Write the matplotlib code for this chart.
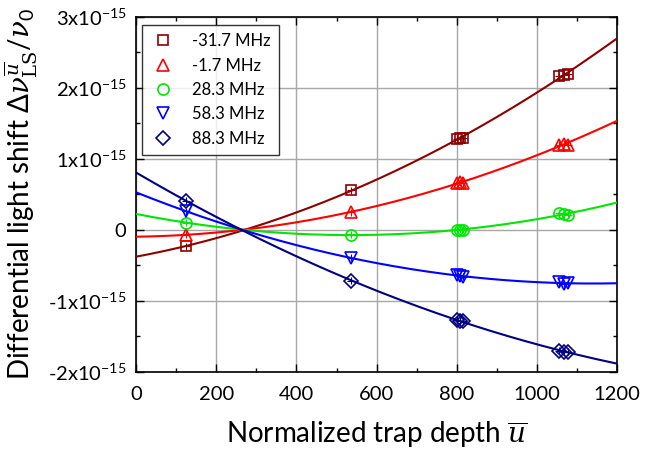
import numpy as np
import matplotlib
matplotlib.use("Agg")
import matplotlib.pyplot as plt
from matplotlib.ticker import MultipleLocator, FixedLocator, FixedFormatter

plt.rcParams["font.family"] = ["Lato", "DejaVu Sans"]
plt.rcParams["mathtext.fontset"] = "custom"
plt.rcParams["mathtext.rm"] = "Lato"
plt.rcParams["mathtext.sf"] = "DejaVu Serif"
plt.rcParams["mathtext.it"] = "DejaVu Serif:italic"

# Normalized trap depth of each measurement
u = [125, 535, 800, 808, 815, 1055, 1066, 1078]

# Differential light shift (units of 1e-15) for each detuning
labels = ["-31.7 MHz", "-1.7 MHz", "28.3 MHz", "58.3 MHz", "88.3 MHz"]
shift_m31_7 = [-0.23, 0.56, 1.28, 1.29, 1.29, 2.17, 2.18, 2.19]
shift_m1_7 = [-0.07, 0.25, 0.66, 0.67, 0.66, 1.20, 1.21, 1.20]
shift_28_3 = [0.10, -0.07, 0.00, 0.00, 0.00, 0.23, 0.22, 0.21]
shift_58_3 = [0.26, -0.39, -0.64, -0.65, -0.66, -0.74, -0.76, -0.75]
shift_88_3 = [0.41, -0.72, -1.27, -1.28, -1.29, -1.70, -1.72, -1.72]
u_err = 10
shift_err = 0.05

series = [shift_m31_7, shift_m1_7, shift_28_3, shift_58_3, shift_88_3]
colors = ["#8b0000", "#ff0000", "#00e600", "#0000ff", "#000080"]
markers = ["s", "^", "o", "v", "D"]
msizes = [7, 8, 8, 8, 7]

y_ticks = [-2, -1, 0, 1, 2, 3]
y_ticklabels = ["-2x10$^{-15}$", "-1x10$^{-15}$", "0", "1x10$^{-15}$",
                "2x10$^{-15}$", "3x10$^{-15}$"]

fig = plt.figure(figsize=(6.45, 4.54), dpi=100)
ax = fig.add_axes([0.211, 0.181, 0.746, 0.782])

ugrid = np.linspace(0, 1200, 300)
handles = []
for ys, c, m, ms, lab in zip(series, colors, markers, msizes, labels):
    coef = np.polyfit(u, ys, 2)
    ax.plot(ugrid, np.polyval(coef, ugrid), color=c, lw=1.5, zorder=3)
    ax.errorbar(u, ys, xerr=u_err, yerr=shift_err, fmt="none",
                ecolor=c, elinewidth=0.8, capsize=0, zorder=4)
    h, = ax.plot(u, ys, ls="none", marker=m, ms=ms, mfc="none", mec=c,
                 mew=1.2, zorder=5, label=lab)
    handles.append(h)

ax.set_xlim(0, 1200)
ax.set_ylim(-2, 3)
ax.xaxis.set_major_locator(MultipleLocator(200))
ax.xaxis.set_minor_locator(MultipleLocator(100))
ax.yaxis.set_major_locator(FixedLocator(y_ticks))
ax.yaxis.set_major_formatter(FixedFormatter(y_ticklabels))
ax.yaxis.set_minor_locator(MultipleLocator(0.5))
ax.grid(True, which="major", color="#a8a8a8", lw=1.0, zorder=0)
ax.set_axisbelow(True)
ax.tick_params(which="both", direction="in", top=True, right=True,
               labelsize=14.5, width=1.0, colors="black")
ax.tick_params(axis="x", which="major", length=6, pad=10)
ax.tick_params(axis="y", which="major", length=6, pad=7)
ax.tick_params(which="minor", length=3)
for s in ax.spines.values():
    s.set_linewidth(1.2)

ax.set_xlabel(r"Normalized trap depth $\overline{u}$", fontsize=20, labelpad=12)
ax.set_ylabel(r"Differential light shift $\Delta\nu_{\mathsf{LS}}^{\overline{u}}/\nu_0$",
              fontsize=20, labelpad=6)

leg = ax.legend(handles=handles, loc="upper left", bbox_to_anchor=(0.012, 0.977),
                borderaxespad=0, fontsize=12, frameon=True, fancybox=False,
                edgecolor="black", handletextpad=1.0, labelspacing=0.5,
                borderpad=0.5, handlelength=1.5)
leg.get_frame().set_linewidth(1.0)

fig.savefig("out.png", dpi=100)
